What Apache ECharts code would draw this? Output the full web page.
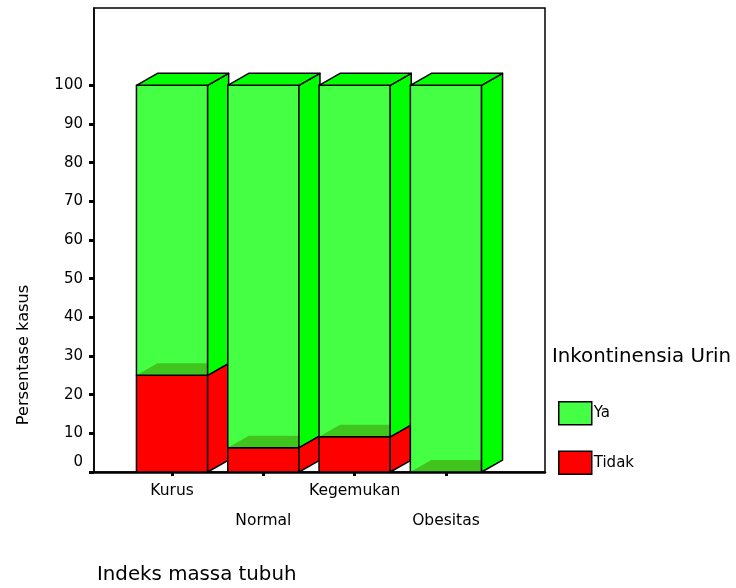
<!DOCTYPE html>
<html>
<head>
<meta charset="utf-8">
<script src="https://cdn.jsdelivr.net/npm/echarts@6/dist/echarts.min.js"></script>
<style>
  html, body { margin: 0; padding: 0; background: #fff; }
  #chart { width: 736px; height: 588px; }
</style>
</head>
<body>
<div id="chart"></div>
<script>
// Body-mass-index groups and the share of cases with / without urinary incontinence (%)
const categories = ['Kurus', 'Normal', 'Kegemukan', 'Obesitas'];
const tidak = [25, 6.3, 9.1, 0];
const ya = [75, 93.7, 90.9, 100];
const yTickValues = [0, 10, 20, 30, 40, 50, 60, 70, 80, 90, 100];

const FONT = 'DejaVu Sans';
const COLORS = {
  yaFront: '#44ff44',
  yaSide: '#00ff00',
  yaFloor: '#40c41e',
  tidak: '#ff0000'
};

// Stacked segments: [categoryIndex, lower bound, upper bound]
const tidakData = categories.map((c, i) => [i, 0, tidak[i]]);
const yaData = categories.map((c, i) => [i, tidak[i], tidak[i] + ya[i]]);

// Draws one stacked segment as a 3D box (front, side, optional floor and lid)
function makeBoxRenderer(front, side, isTop) {
  return function (params, api) {
    const i = api.value(0);
    const lo = api.value(1);
    const hi = api.value(2);
    if (hi - lo <= 0) return { type: 'group', children: [] };
    const pLo = api.coord([i, lo]);
    const pHi = api.coord([i, hi]);
    const band = api.size([1, 0])[0];
    const fw = band * 0.78;
    const dx = band * 0.23;
    const dy = dx * 0.57;
    const L = pLo[0] - fw / 2;
    const R = pLo[0] + fw / 2;
    const yT = pHi[1];
    const yB = pLo[1];
    const stroke = { stroke: '#000', lineWidth: 1.5, lineJoin: 'round' };
    const children = [
      { type: 'rect', shape: { x: L, y: yT, width: fw, height: yB - yT }, style: { fill: front } }
    ];
    if (isTop) {
      // floor of the upper box, seen through the front face
      children.push({
        type: 'polygon',
        shape: { points: [[L, yB], [R, yB], [R, yB - dy], [L + dx, yB - dy]] },
        style: { fill: COLORS.yaFloor }
      });
    }
    children.push(
      { type: 'rect', shape: { x: L, y: yT, width: fw, height: yB - yT }, style: Object.assign({ fill: 'none' }, stroke) },
      {
        type: 'polygon',
        shape: { points: [[R, yT], [R + dx, yT - dy], [R + dx, yB - dy], [R, yB]] },
        style: Object.assign({ fill: side }, stroke)
      }
    );
    if (isTop) {
      children.push({
        type: 'polygon',
        shape: { points: [[L, yT], [L + dx, yT - dy], [R + dx, yT - dy], [R, yT]] },
        style: Object.assign({ fill: side }, stroke)
      });
    }
    return { type: 'group', children: children };
  };
}

const chart = echarts.init(document.getElementById('chart'), null, { renderer: 'canvas' });

chart.setOption({
  backgroundColor: '#fff',
  animation: false,
  textStyle: { fontFamily: FONT, color: '#000' },
  grid: [
    { left: 94, top: 8, width: 451, height: 464, show: true, borderColor: '#000', borderWidth: 1.5, backgroundColor: 'transparent' },
    { left: 126.4, top: 8, width: 365.2, height: 464 }
  ],
  xAxis: [
    {
      gridIndex: 0, type: 'value', min: 0, max: 1,
      axisLine: { show: true, lineStyle: { color: '#000', width: 2.5 } },
      axisTick: { show: false }, axisLabel: { show: false }, splitLine: { show: false }
    },
    {
      gridIndex: 1, type: 'category', data: categories,
      axisLine: { show: false },
      axisTick: { show: true, alignWithLabel: true, length: 4, lineStyle: { color: '#000', width: 3 } },
      axisLabel: {
        interval: 0, hideOverlap: false, margin: 4,
        fontFamily: FONT, fontSize: 15.5, color: '#000', lineHeight: 30,
        formatter: (v, idx) => (idx % 2 === 1 ? '\n' + v : v)
      },
      splitLine: { show: false }
    }
  ],
  yAxis: [
    {
      gridIndex: 0, type: 'value', min: 0, max: 120, interval: 10,
      axisLine: { show: true, lineStyle: { color: '#000', width: 1.5 } },
      axisTick: { show: true, customValues: yTickValues, length: 5, lineStyle: { color: '#000', width: 3 } },
      axisLabel: {
        customValues: yTickValues, margin: 11,
        fontFamily: FONT, fontSize: 15, color: '#000',
        formatter: v => (v === 0 ? '{z|0}' : String(v)),
        rich: { z: { fontFamily: FONT, fontSize: 15, color: '#000', padding: [0, 0, 20, 0] } }
      },
      splitLine: { show: false }
    },
    { gridIndex: 1, type: 'value', min: 0, max: 120, show: false }
  ],
  legend: {
    data: ['Ya', 'Tidak'],
    orient: 'vertical',
    left: 558, top: 401, padding: 0,
    itemWidth: 33, itemHeight: 23, itemGap: 25,
    icon: 'rect',
    selectedMode: false,
    itemStyle: { borderColor: '#000', borderWidth: 1.5 },
    textStyle: { fontFamily: FONT, fontSize: 15, color: '#000', padding: [0, 0, 0, -3] }
  },
  graphic: [
    {
      type: 'text', left: 552, top: 347,
      style: { text: 'Inkontinensia Urin', fontFamily: FONT, fontSize: 19.8, fill: '#000' }
    },
    {
      type: 'text', left: 97, top: 565,
      style: { text: 'Indeks massa tubuh', fontFamily: FONT, fontSize: 19.8, fill: '#000' }
    },
    {
      type: 'text', x: 24, y: 355, rotation: Math.PI / 2,
      style: { text: 'Persentase kasus', fontFamily: FONT, fontSize: 16.2, fill: '#000', align: 'center', verticalAlign: 'middle' }
    }
  ],
  series: [
    {
      name: 'Tidak', type: 'custom', xAxisIndex: 1, yAxisIndex: 1,
      itemStyle: { color: COLORS.tidak },
      renderItem: makeBoxRenderer(COLORS.tidak, COLORS.tidak, false),
      encode: { x: 0, y: [1, 2] },
      data: tidakData
    },
    {
      name: 'Ya', type: 'custom', xAxisIndex: 1, yAxisIndex: 1,
      itemStyle: { color: COLORS.yaFront },
      renderItem: makeBoxRenderer(COLORS.yaFront, COLORS.yaSide, true),
      encode: { x: 0, y: [1, 2] },
      data: yaData
    }
  ]
});
</script>
</body>
</html>
